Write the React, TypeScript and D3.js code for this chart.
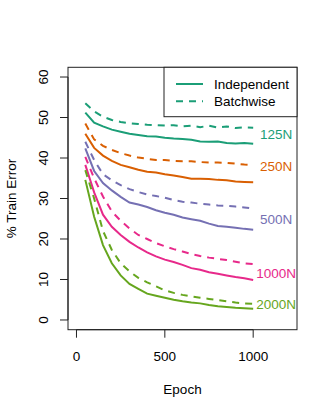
import React from 'react';
import * as d3 from 'd3';

const epochs = d3.range(50, 1001, 50);

const indep125 = [51.2, 48.7, 47.8, 47.0, 46.5, 46.0, 45.7, 45.4, 45.3, 45.0, 44.8, 44.7, 44.5, 44.1, 44.0, 44.1, 43.7, 43.6, 43.7, 43.5];
const batch125 = [53.5, 51.5, 50.2, 49.4, 48.9, 48.6, 48.4, 48.2, 48.1, 48.0, 48.1, 47.8, 48.0, 47.6, 48.0, 47.5, 47.8, 47.4, 47.6, 47.5];
const indep250 = [46.0, 42.5, 40.6, 39.3, 38.3, 37.7, 37.1, 36.6, 36.4, 36.0, 35.7, 35.3, 34.9, 34.9, 34.8, 34.6, 34.5, 34.2, 34.1, 34.0];
const batch250 = [48.5, 44.6, 43.0, 42.0, 41.2, 40.6, 40.1, 39.8, 39.5, 39.5, 39.3, 39.2, 39.2, 39.0, 38.9, 38.9, 38.8, 38.6, 38.4, 38.3];
const indep500 = [42.4, 36.8, 33.8, 32.0, 30.4, 29.0, 28.5, 27.9, 27.1, 26.5, 26.0, 25.3, 24.9, 24.5, 23.8, 23.2, 23.0, 22.8, 22.5, 22.3];
const batch500 = [44.0, 39.5, 36.0, 34.5, 33.3, 32.3, 31.6, 31.0, 30.6, 30.2, 29.6, 29.2, 29.0, 28.7, 28.5, 28.3, 28.2, 28.0, 27.8, 27.5];
const indep1000 = [38.3, 31.5, 26.0, 23.0, 21.0, 19.3, 17.9, 16.7, 15.7, 14.9, 14.3, 13.6, 12.8, 12.4, 11.8, 11.4, 11.0, 10.6, 10.3, 9.9];
const batch1000 = [40.3, 35.0, 30.5, 26.8, 24.5, 22.6, 21.0, 20.0, 19.0, 18.2, 17.5, 16.9, 16.3, 15.8, 15.4, 15.1, 14.8, 14.4, 14.0, 13.8];
const indep2000 = [34.6, 25.5, 18.5, 14.0, 11.0, 8.9, 7.7, 6.5, 6.0, 5.5, 5.0, 4.6, 4.3, 4.1, 3.7, 3.4, 3.2, 3.0, 2.9, 2.8];
const batch2000 = [37.0, 30.0, 22.0, 17.3, 14.0, 12.0, 10.4, 9.3, 8.3, 7.3, 6.7, 6.2, 5.8, 5.5, 5.2, 4.9, 4.6, 4.3, 4.1, 4.0];

const groupNames = ['125N', '250N', '500N', '1000N', '2000N'];
const groupColors = ['#1B9E77', '#D95F02', '#7570B3', '#E7298A', '#66A61E'];
const labelValues = [45.9, 37.9, 24.9, 11.6, 3.9];
const labelEpoch = 1130;

const xTicks = [0, 500, 1000];
const yTicks = [0, 10, 20, 30, 40, 50, 60];

const series = [
  { name: '125N', kind: 'solid', values: indep125 },
  { name: '125N', kind: 'dash', values: batch125 },
  { name: '250N', kind: 'solid', values: indep250 },
  { name: '250N', kind: 'dash', values: batch250 },
  { name: '500N', kind: 'solid', values: indep500 },
  { name: '500N', kind: 'dash', values: batch500 },
  { name: '1000N', kind: 'solid', values: indep1000 },
  { name: '1000N', kind: 'dash', values: batch1000 },
  { name: '2000N', kind: 'solid', values: indep2000 },
  { name: '2000N', kind: 'dash', values: batch2000 },
];

const W = 332, H = 415;
const plot = { left: 68, right: 297, top: 67.3, bottom: 329.7 };
const font = 'Liberation Sans, Arial, Helvetica, sans-serif';
const fs = 13.5;
const dash = '7,6';

export default function App() {
  // R-style 4% axis extension around xlim c(0,1200), ylim c(0,60)
  const x = d3.scaleLinear().domain([-48, 1248]).range([plot.left, plot.right]);
  const y = d3.scaleLinear().domain([-2.4, 62.4]).range([plot.bottom, plot.top]);
  const color = d3.scaleOrdinal<string, string>().domain(groupNames).range(groupColors);

  const line = d3.line<number>()
    .x((_, i) => x(epochs[i]))
    .y(d => y(d));

  const cx = (plot.left + plot.right) / 2;
  const cy = (plot.top + plot.bottom) / 2;

  const lg = { x0: 164, y0: plot.top, x1: plot.right, y1: 116.7 };

  return (
    <svg width={W} height={H} style={{ position: 'absolute', left: 0, top: 0, background: '#fff' }}
      fontFamily={font} fontSize={fs}>
      {series.map((s, i) => (
        <path key={i} d={line(s.values) || ''} fill="none" stroke={color(s.name)}
          strokeWidth={2} strokeDasharray={s.kind === 'dash' ? dash : undefined} />
      ))}

      {groupNames.map((g, i) => (
        <text key={g} x={x(labelEpoch)} y={y(labelValues[i])} dy="0.36em" textAnchor="middle" fill={color(g)}>{g}</text>
      ))}

      {/* box */}
      <rect x={plot.left} y={plot.top} width={plot.right - plot.left} height={plot.bottom - plot.top}
        fill="none" stroke="#222" strokeWidth={1} />

      {/* y axis */}
      <line x1={plot.left} x2={plot.left} y1={y(0)} y2={y(60)} stroke="#222" />
      {yTicks.map(t => (
        <g key={t}>
          <line x1={plot.left - 8} x2={plot.left} y1={y(t)} y2={y(t)} stroke="#222" />
          <text transform={`translate(43,${y(t)}) rotate(-90)`} textAnchor="middle" dy="0.36em" fill="#000">{t}</text>
        </g>
      ))}

      {/* x axis */}
      <line x1={x(0)} x2={x(1000)} y1={plot.bottom} y2={plot.bottom} stroke="#222" />
      {xTicks.map(t => (
        <g key={t}>
          <line x1={x(t)} x2={x(t)} y1={plot.bottom} y2={plot.bottom + 8} stroke="#222" />
          <text x={x(t)} y={356} dy="0.36em" textAnchor="middle" fill="#000">{t}</text>
        </g>
      ))}

      <text x={cx} y={389} dy="0.36em" textAnchor="middle" fill="#000">Epoch</text>
      <text transform={`translate(11,${cy}) rotate(-90)`} dy="0.36em" textAnchor="middle" fill="#000">% Train Error</text>

      {/* legend */}
      <rect x={lg.x0} y={lg.y0} width={lg.x1 - lg.x0} height={lg.y1 - lg.y0} fill="#fff" stroke="#222" />
      <line x1={176} x2={203} y1={84} y2={84} stroke={groupColors[0]} strokeWidth={2} />
      <line x1={176} x2={203} y1={101.3} y2={101.3} stroke={groupColors[0]} strokeWidth={2} strokeDasharray={dash} />
      <text x={214} y={84} dy="0.36em" fill="#000">Independent</text>
      <text x={214} y={101.3} dy="0.36em" fill="#000">Batchwise</text>
    </svg>
  );
}
